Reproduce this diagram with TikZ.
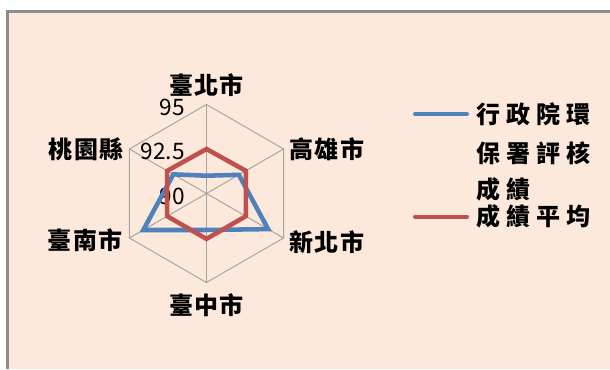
\documentclass[tikz,border=0pt]{standalone}
\usepackage{fontspec}
\newfontfamily\cjk{Noto Sans CJK TC}
\newfontfamily\cjklabel[LetterSpace=6]{Noto Sans CJK TC}
\newfontfamily\cjkwide[LetterSpace=26]{Noto Sans CJK TC}
\usepackage{tikz}
\usetikzlibrary{positioning}
\definecolor{peach}{HTML}{FDE9DB}
\definecolor{framegray}{HTML}{8C8C8C}
\definecolor{gridgray}{HTML}{A6A6A6}
\definecolor{seriesblue}{HTML}{4F81BD}
\definecolor{seriesred}{HTML}{C0504D}

\begin{document}
\begin{tikzpicture}[
    x=0.75pt, y=0.75pt,
    cat/.style={font=\cjklabel\bfseries\fontsize{18}{20}\selectfont, inner sep=0pt},
    tick/.style={font=\cjk\fontsize{17}{19}\selectfont, inner sep=0pt, anchor=east},
    legtext/.style={font=\cjkwide\bfseries\fontsize{18}{20}\selectfont, inner sep=0pt, anchor=west},
    grid/.style={gridgray, line width=0.75pt},
    series/.style={line width=3.4pt, line join=miter},
    legline/.style={line width=3pt, line cap=round}
]
    \useasboundingbox (0,0) rectangle (610,369);
    \fill[peach] (7.5,0) rectangle (610,357.5);
    \draw[framegray, line width=1.9pt] (7.5,0) -- (7.5,357.5) -- (610,357.5);

    \begin{scope}[shift={(206.5,175.5)}]
        % spokes and outer ring
        \coordinate (o) at (0,0);
        \foreach \a [count=\i] in {90,30,-30,-90,-150,150}
            \coordinate (v\i) at (\a:89);
        \draw[grid] (v1) -- (v2) -- (v3) -- (v4) -- (v5) -- (v6) -- cycle;
        \foreach \i in {1,...,6}
            \draw[grid] (o) -- (v\i);

        % axis values
        \foreach \val/\r [count=\i] in {95/1, 92.5/0.5, 90/0}
            \node[tick] (tick\i) at (-21.5, {\r*89-2.5}) {\val};

        % data
        \foreach \v [count=\i] in {91.0,92.1,94.0,92.05,94.1,92.15}
            \coordinate (b\i) at ({150-60*\i}:{(\v-90)/5*89});
        \foreach \v [count=\i] in {92.5,92.55,92.55,92.55,92.55,92.55}
            \coordinate (r\i) at ({150-60*\i}:{(\v-90)/5*89});
        \draw[series, seriesblue] (b1) -- (b2) -- (b3) -- (b4) -- (b5) -- (b6) -- cycle;
        \draw[series, seriesred] (r1) -- (r2) -- (r3) -- (r4) -- (r5) -- (r6) -- cycle;

        % city labels
        \node[cat, above=6pt of v1] (taipei) {臺北市};
        \node[cat, right=4pt of v2] (kaohsiung) {高雄市};
        \node[cat, right=4pt of v3, yshift=-3pt] (newtaipei) {新北市};
        \node[cat, below=8pt of v4] (taichung) {臺中市};
        \node[cat, left=5pt of v5, yshift=-1.5pt] (tainan) {臺南市};
        \node[cat, left=4pt of v6] (taoyuan) {桃園縣};
    \end{scope}

    % legend
    \coordinate (bluestart) at (415,255);
    \coordinate (blueend) at (467,255);
    \coordinate (redstart) at (415,152.3);
    \coordinate (redend) at (467,152.3);
    \draw[legline, seriesblue] (bluestart) -- (blueend);
    \draw[legline, seriesred] (redstart) -- (redend);
    \node[legtext] (legblue) at (476,254.5) {行政院環};
    \node[legtext] (legblue2) at (476,215.5) {保署評核};
    \node[legtext] (legblue3) at (476,180) {成績};
    \node[legtext] (legred) at (476,152.5) {成績平均};
\end{tikzpicture}
\end{document}
